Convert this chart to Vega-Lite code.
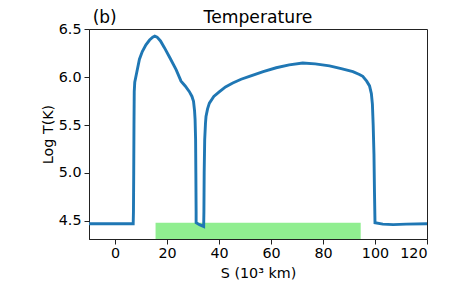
{
  "$schema": "https://vega.github.io/schema/vega-lite/v6.json",
  "autosize": "none",
  "width": 338,
  "height": 210,
  "padding": {"left": 89, "top": 29, "right": 23, "bottom": 61},
  "background": "white",
  "config": {
    "font": "DejaVu Sans",
    "view": {"stroke": "#222", "strokeWidth": 1},
    "axis": {
      "grid": false,
      "domainColor": "#222",
      "tickColor": "#222",
      "tickSize": 5,
      "labelFont": "DejaVu Sans",
      "labelFontSize": 14.3,
      "labelColor": "black",
      "titleFont": "DejaVu Sans",
      "titleFontSize": 14.3,
      "titleFontWeight": "normal",
      "titleColor": "black"
    }
  },
  "datasets": {
    "temp": [
      {"s": -10, "logT": 4.47}, {"s": 7.0, "logT": 4.47}, {"s": 7.1, "logT": 4.6}, {"s": 7.2, "logT": 5.0},
      {"s": 7.3, "logT": 5.5}, {"s": 7.4, "logT": 5.85}, {"s": 7.6, "logT": 5.95}, {"s": 8.2, "logT": 6.03},
      {"s": 9.4, "logT": 6.19}, {"s": 10.5, "logT": 6.27}, {"s": 11.9, "logT": 6.34}, {"s": 13.3, "logT": 6.39},
      {"s": 14.5, "logT": 6.42}, {"s": 15.3, "logT": 6.43}, {"s": 16.2, "logT": 6.42}, {"s": 17.5, "logT": 6.38},
      {"s": 19, "logT": 6.31}, {"s": 21, "logT": 6.21}, {"s": 23.5, "logT": 6.08}, {"s": 25.4, "logT": 5.96},
      {"s": 27, "logT": 5.91}, {"s": 28.6, "logT": 5.85}, {"s": 29.6, "logT": 5.8}, {"s": 30.2, "logT": 5.75},
      {"s": 30.6, "logT": 5.65}, {"s": 30.8, "logT": 5.56}, {"s": 31.0, "logT": 5.35}, {"s": 31.1, "logT": 5.0},
      {"s": 31.2, "logT": 4.6}, {"s": 31.2, "logT": 4.48}, {"s": 32.5, "logT": 4.46}, {"s": 34.1, "logT": 4.44},
      {"s": 34.2, "logT": 4.6}, {"s": 34.3, "logT": 5.0}, {"s": 34.5, "logT": 5.35}, {"s": 34.8, "logT": 5.52},
      {"s": 35.0, "logT": 5.59}, {"s": 35.6, "logT": 5.67}, {"s": 36.3, "logT": 5.73}, {"s": 38, "logT": 5.8},
      {"s": 40.2, "logT": 5.85}, {"s": 42.5, "logT": 5.9}, {"s": 45.3, "logT": 5.94}, {"s": 48.5, "logT": 5.98},
      {"s": 51.7, "logT": 6.01}, {"s": 57, "logT": 6.06}, {"s": 62, "logT": 6.1}, {"s": 67, "logT": 6.13},
      {"s": 72.2, "logT": 6.15}, {"s": 77, "logT": 6.14}, {"s": 82.5, "logT": 6.12}, {"s": 87, "logT": 6.09},
      {"s": 91.5, "logT": 6.06}, {"s": 94, "logT": 6.03}, {"s": 95.3, "logT": 6.01}, {"s": 96.8, "logT": 5.96},
      {"s": 97.9, "logT": 5.91}, {"s": 98.6, "logT": 5.83}, {"s": 99.0, "logT": 5.72}, {"s": 99.3, "logT": 5.5},
      {"s": 99.6, "logT": 5.2}, {"s": 99.8, "logT": 4.8}, {"s": 100.0, "logT": 4.48}, {"s": 103, "logT": 4.465},
      {"s": 107, "logT": 4.46}, {"s": 112, "logT": 4.465}, {"s": 120, "logT": 4.47}
    ],
    "band": [{"s1": 15.6, "s2": 94.5, "y1": 4.3, "y2": 4.48}],
    "panel": [{"label": "(b)"}],
    "heading": [{"label": "Temperature"}]
  },
  "layer": [
    {
      "data": {"name": "band"},
      "mark": {"type": "rect", "color": "#90ee90", "clip": true},
      "encoding": {
        "x": {"field": "s1", "type": "quantitative", "scale": {"domain": [-10, 120], "nice": false, "zero": false},
              "axis": {"values": [0, 20, 40, 60, 80, 100, 120], "title": "S (10³ km)", "labelPadding": 2, "titlePadding": 6}},
        "x2": {"field": "s2"},
        "y": {"field": "y1", "type": "quantitative", "scale": {"domain": [4.31, 6.505], "nice": false, "zero": false},
              "axis": {"values": [4.5, 5.0, 5.5, 6.0, 6.5], "format": ".1f", "title": "Log T(K)", "labelPadding": 3, "titlePadding": 3}},
        "y2": {"field": "y2"}
      }
    },
    {
      "data": {"name": "temp"},
      "mark": {"type": "line", "color": "#1f77b4", "strokeWidth": 2.9, "clip": true},
      "encoding": {
        "x": {"field": "s", "type": "quantitative"},
        "y": {"field": "logT", "type": "quantitative"},
        "order": {"value": null}
      }
    },
    {
      "data": {"name": "panel"},
      "mark": {"type": "text", "align": "left", "baseline": "alphabetic", "fontSize": 17, "font": "DejaVu Sans", "color": "black", "clip": false},
      "encoding": {
        "x": {"datum": -8.6, "type": "quantitative"},
        "y": {"datum": 6.57, "type": "quantitative"},
        "text": {"field": "label"}
      }
    },
    {
      "data": {"name": "heading"},
      "mark": {"type": "text", "align": "center", "baseline": "alphabetic", "fontSize": 17.2, "font": "DejaVu Sans", "color": "black", "clip": false},
      "encoding": {
        "x": {"datum": 55, "type": "quantitative"},
        "y": {"datum": 6.569, "type": "quantitative"},
        "text": {"field": "label"}
      }
    }
  ]
}
